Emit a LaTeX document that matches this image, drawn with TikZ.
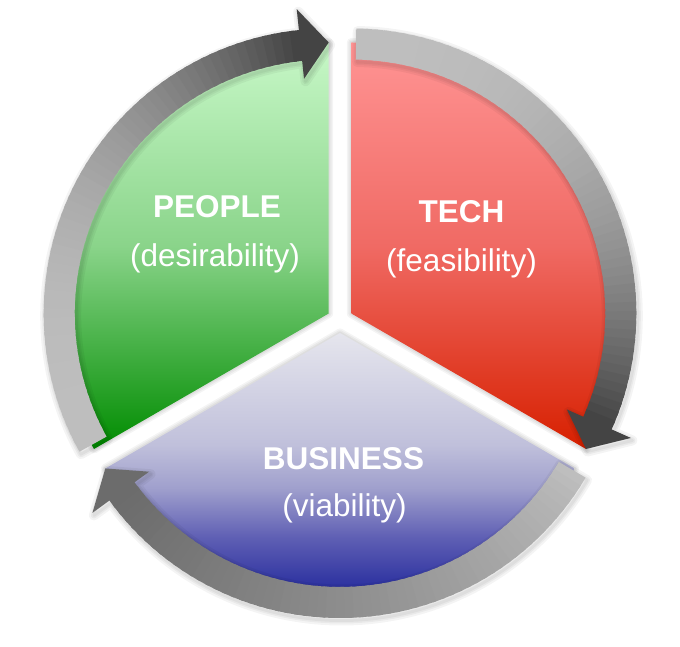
\documentclass[tikz,border=0pt]{standalone}
\usepackage{fontspec}
\setmainfont{Liberation Sans}
\definecolor{greentop}{RGB}{200,248,200}
\definecolor{greenmid}{RGB}{138,212,138}
\definecolor{greenbot}{RGB}{0,140,0}
\definecolor{redtop}{RGB}{255,148,148}
\definecolor{redmid}{RGB}{240,106,100}
\definecolor{redbot}{RGB}{215,32,0}
\definecolor{arrowlight}{RGB}{190,190,190}
\definecolor{arrowdark}{RGB}{68,68,68}
\definecolor{arrowmid}{RGB}{108,108,108}
\pgfdeclareverticalshading{bluefade}{100bp}{%
  rgb(0bp)=(0.059,0.086,0.549);
  rgb(25bp)=(0.059,0.086,0.549);
  rgb(31bp)=(0.098,0.125,0.596);
  rgb(42bp)=(0.373,0.373,0.706);
  rgb(50bp)=(0.627,0.627,0.804);
  rgb(57bp)=(0.753,0.753,0.859);
  rgb(75bp)=(0.90,0.90,0.93);
  rgb(100bp)=(0.90,0.90,0.93)}
\tikzset{
  maintext/.style={text=white, font=\fontsize{31.5}{36}\selectfont\bfseries, anchor=base, inner sep=0pt},
  subtext/.style={text=white, font=\fontsize{31.5}{36}\selectfont, anchor=base, inner sep=0pt},
  halo/.style={draw=black, draw opacity=0.045, line join=round},
}
\newcommand{\piesector}[6]{%
  \foreach \w in {9,6,3}{%
    \draw[halo, line width=\w pt] (#1) -- ++(#2:271) arc[start angle=#2, end angle=#3, radius=271] -- cycle;}
  \shade[top color=#4, bottom color=#6, middle color=#5] (#1) -- ++(#2:271) arc[start angle=#2, end angle=#3, radius=271] -- cycle;
}
\newcommand{\ringarrow}[6]{%
  \begin{scope}[shift={(#1)}]
    \pgfmathsetmacro\hb{#3+6}
    \foreach \w in {10,6,3}{%
      \draw[halo, line width=\w pt, shift={(1.5,-2.5)}] (#2:254) arc[start angle=#2, end angle=\hb, radius=254] -- (\hb:236) -- (#3:271) -- (\hb:306) -- (\hb:285) arc[start angle=\hb, end angle=#2, radius=285] -- cycle;}
    \foreach \k in {0,...,59}{%
      \pgfmathsetmacro\sa{#2+(\hb-#2)*\k/60}
      \pgfmathsetmacro\ea{#2+(\hb-#2)*(\k+1.4)/60}
      \pgfmathsetmacro\pc{100*((\k+0.01)/59.01)^#6}
      \fill[#5!\pc!#4] (\sa:254) arc[start angle=\sa, end angle=\ea, radius=254] -- (\ea:285) arc[start angle=\ea, end angle=\sa, radius=285] -- cycle;}
    \fill[#5] (\hb:236) -- (#3:271) -- (\hb:306) -- cycle;
  \end{scope}}
\begin{document}
\begin{tikzpicture}[x=1pt,y=1pt]
  \useasboundingbox (0,0) rectangle (680,647);
  \fill[white] (0,0) rectangle (680,647);
  \coordinate (G) at (328.7,333.5);
  \coordinate (R) at (351.3,333.5);
  \coordinate (B) at (340,314);
  \piesector{G}{90}{210}{greentop}{greenmid}{greenbot}
  \piesector{R}{-30}{90}{redtop}{redmid}{redbot}
  \foreach \w in {9,6,3}{%
    \draw[halo, line width=\w pt] (B) -- ++(210:271) arc[start angle=210, end angle=330, radius=271] -- cycle;}
  \shade[shading=bluefade] (B) -- ++(210:271) arc[start angle=210, end angle=330, radius=271] -- cycle;
  \ringarrow{G}{209}{90}{arrowlight}{arrowdark}{2.5}
  \ringarrow{R}{89}{-30}{arrowlight}{arrowdark}{2.5}
  \ringarrow{B}{329.5}{210}{arrowlight}{arrowmid}{0.8}
  \node[maintext] (people) at (217,429) {PEOPLE};
  \node[subtext] (peoplesub) at (215,380) {(desirability)};
  \node[maintext] (tech) at (461.5,424) {TECH};
  \node[subtext] (techsub) at (461.5,375) {(feasibility)};
  \node[maintext] (business) at (343.5,177) {BUSINESS};
  \node[subtext] (businesssub) at (344.5,130) {(viability)};
\end{tikzpicture}
\end{document}
